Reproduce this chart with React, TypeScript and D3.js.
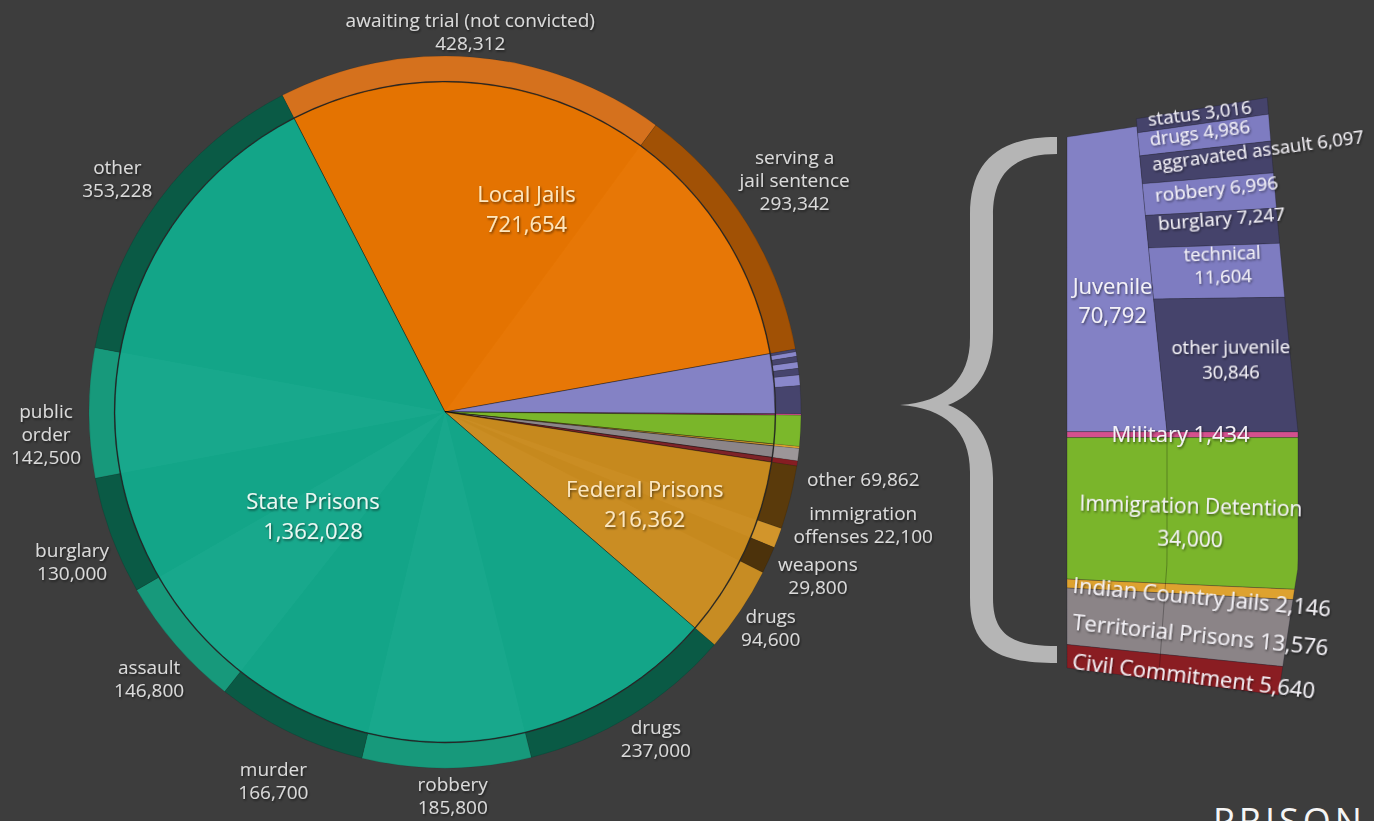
import React from 'react';
import * as d3 from 'd3';

// ---------------- DATA ----------------
const mainCategories = [
  'Local Jails', 'Juvenile', 'Military', 'Immigration Detention', 'Indian Country Jails',
  'Territorial Prisons', 'Civil Commitment', 'Federal Prisons', 'State Prisons',
];
const mainValues = [721654, 70792, 1434, 34000, 2146, 13576, 5640, 216362, 1362028];

const localJailCategories = ['awaiting trial (not convicted)', 'serving a jail sentence'];
const localJailValues = [428312, 293342];

const juvenileCategories = ['status', 'drugs', 'aggravated assault', 'robbery', 'burglary', 'technical', 'other juvenile'];
const juvenileValues = [3016, 4986, 6097, 6996, 7247, 11604, 30846];

const federalCategories = ['other', 'immigration offenses', 'weapons', 'drugs'];
const federalValues = [69862, 22100, 29800, 94600];

const stateCategories = ['drugs', 'robbery', 'murder', 'assault', 'burglary', 'public order', 'other'];
const stateValues = [237000, 185800, 166700, 146800, 130000, 142500, 353228];

// the small slices that are exploded into the stacked column on the right
const barCategories = ['Juvenile', 'Military', 'Immigration Detention', 'Indian Country Jails', 'Territorial Prisons', 'Civil Commitment'];

const breakdowns: Record<string, { cats: string[]; vals: number[] }> = {
  'Local Jails': { cats: localJailCategories, vals: localJailValues },
  'Juvenile': { cats: juvenileCategories, vals: juvenileValues },
  'Federal Prisons': { cats: federalCategories, vals: federalValues },
  'State Prisons': { cats: stateCategories, vals: stateValues },
};

// ---------------- STYLE / LAYOUT ----------------
const W = 1374, H = 821;
const CX = 445, CY = 412, R_PIE = 330, R_RING_IN = 331, R_RING_OUT = 356;
const START = (-27.2 * Math.PI) / 180;
const BAR = { xl: 1067, xd: 1167, xr: 1298, top: 137, bottom: 668, rightTop: 130 };
const FONT = "'Open Sans', 'DejaVu Sans', sans-serif";
const BG = '#3d3d3d';

const mainColors: Record<string, string> = {
  'Local Jails': '#e77502',
  'Juvenile': '#8482c5',
  'Military': '#d4508e',
  'Immigration Detention': '#7ab62a',
  'Indian Country Jails': '#e0a431',
  'Territorial Prisons': '#8c8588',
  'Civil Commitment': '#7e2328',
  'Federal Prisons': '#c98b1f',
  'State Prisons': '#14a78a',
};
const ringPalette: Record<string, string[]> = {
  'Local Jails': ['#d5711d', '#a15105'],
  'Juvenile': ['#46446d', '#8987cb'],
  'Military': ['#d4508e'],
  'Immigration Detention': ['#7bb82b'],
  'Indian Country Jails': ['#e1a531'],
  'Territorial Prisons': ['#9c9699'],
  'Civil Commitment': ['#861d23'],
  'Federal Prisons': ['#5a3a0b', '#d2952b', '#4c320b', '#c78c23'],
  'State Prisons': ['#0a5a45', '#17997b'],
};
const barColors: Record<string, string> = {
  'Juvenile': '#8381c5',
  'Military': '#d4508e',
  'Immigration Detention': '#7ab52b',
  'Indian Country Jails': '#dea22f',
  'Territorial Prisons': '#8b8487',
  'Civil Commitment': '#8a1d22',
};
const juvenileBarPalette = ['#45436b', '#7e7cc1'];

type PieLabel = { r: number; dx: number; dy: number; lines: string[] };
const pieLabelLayout: Record<string, PieLabel> = {
  'Local Jails|awaiting trial (not convicted)': { r: 381, dx: -5, dy: 0, lines: ['awaiting trial (not convicted)', '{v}'] },
  'Local Jails|serving a jail sentence': { r: 412, dx: 0, dy: -14, lines: ['serving a', 'jail sentence', '{v}'] },
  'Federal Prisons|other': { r: 398, dx: 32, dy: -28, lines: ['other {v}'] },
  'Federal Prisons|immigration offenses': { r: 398, dx: 46, dy: -28, lines: ['immigration', 'offenses {v}'] },
  'Federal Prisons|weapons': { r: 398, dx: 11, dy: -2, lines: ['weapons', '{v}'] },
  'Federal Prisons|drugs': { r: 398, dx: -5, dy: -6, lines: ['drugs', '{v}'] },
  'State Prisons|drugs': { r: 389, dx: 7, dy: -4, lines: ['drugs', '{v}'] },
  'State Prisons|robbery': { r: 387, dx: 6, dy: -3, lines: ['robbery', '{v}'] },
  'State Prisons|murder': { r: 407, dx: 6, dy: 3, lines: ['murder', '{v}'] },
  'State Prisons|assault': { r: 398, dx: 5, dy: 6, lines: ['assault', '{v}'] },
  'State Prisons|burglary': { r: 402, dx: 4, dy: 10, lines: ['burglary', '{v}'] },
  'State Prisons|public order': { r: 399, dx: 0, dy: 21, lines: ['public', 'order', '{v}'] },
  'State Prisons|other': { r: 402, dx: -5, dy: 7, lines: ['other', '{v}'] },
};
const mainLabelLayout: Record<string, PieLabel & { fill: string }> = {
  'Local Jails': { r: 218, dx: -15, dy: -7, lines: ['Local Jails', '{v}'], fill: '#fde6bd' },
  'Federal Prisons': { r: 220, dx: 0, dy: 0, lines: ['Federal Prisons', '{v}'], fill: '#fbe7c2' },
  'State Prisons': { r: 168, dx: 0, dy: 0, lines: ['State Prisons', '{v}'], fill: '#ecf7f2' },
};

type BarLabel = { col: 'left' | 'right' | 'full'; anchor: 'start' | 'middle'; dx: number; dy: number; rot: number; size: number; lh: number; lines: string[] };
const barLabelLayout: Record<string, BarLabel> = {
  'Juvenile': { col: 'left', anchor: 'middle', dx: 3, dy: 17, rot: 0, size: 22, lh: 29, lines: ['Juvenile', '{v}'] },
  'status': { col: 'right', anchor: 'start', dx: 0, dy: -4, rot: -7, size: 18.5, lh: 22, lines: ['status {v}'] },
  'drugs': { col: 'right', anchor: 'start', dx: 0, dy: -3, rot: -7.5, size: 18.5, lh: 22, lines: ['drugs {v}'] },
  'aggravated assault': { col: 'right', anchor: 'start', dx: 0, dy: -4, rot: -7.5, size: 18.5, lh: 22, lines: ['aggravated assault {v}'] },
  'robbery': { col: 'right', anchor: 'start', dx: 0, dy: -4, rot: -6, size: 19, lh: 22, lines: ['robbery {v}'] },
  'burglary': { col: 'right', anchor: 'start', dx: 0, dy: -8, rot: -4.5, size: 19, lh: 22, lines: ['burglary {v}'] },
  'technical': { col: 'right', anchor: 'middle', dx: 6, dy: -7, rot: -2, size: 18.5, lh: 23, lines: ['technical', '{v}'] },
  'other juvenile': { col: 'right', anchor: 'middle', dx: 5, dy: -6, rot: -0.5, size: 18.5, lh: 25, lines: ['other juvenile', '{v}'] },
  'Military': { col: 'full', anchor: 'middle', dx: -2, dy: 0, rot: 0, size: 22, lh: 26, lines: ['Military {v}'] },
  'Immigration Detention': { col: 'full', anchor: 'middle', dx: 8, dy: 13, rot: 1.5, size: 21, lh: 33, lines: ['Immigration Detention', '{v}'] },
  'Indian Country Jails': { col: 'full', anchor: 'start', dx: 0, dy: 1, rot: 5.3, size: 22, lh: 26, lines: ['Indian Country Jails {v}'] },
  'Territorial Prisons': { col: 'full', anchor: 'start', dx: 0, dy: 5, rot: 5.8, size: 22, lh: 26, lines: ['Territorial Prisons {v}'] },
  'Civil Commitment': { col: 'full', anchor: 'start', dx: 0, dy: 4, rot: 7, size: 22, lh: 26, lines: ['Civil Commitment {v}'] },
};

const fmt = d3.format(',');

function Label(props: {
  x: number; y: number; lines: string[]; size: number; lh: number; fill: string;
  anchor?: string; rot?: number; weight?: number;
}) {
  const { x, y, lines, size, lh, fill, anchor = 'middle', rot = 0, weight = 400 } = props;
  const n = lines.length;
  return (
    <text
      transform={`translate(${x.toFixed(1)},${y.toFixed(1)}) rotate(${rot})`}
      fontSize={size}
      fill={fill}
      textAnchor={anchor}
      fontFamily={FONT}
      fontWeight={weight}
      filter="url(#ts)"
    >
      {lines.map((l, i) => (
        <tspan key={i} x={0} y={(i - (n - 1) / 2) * lh} dy="0.35em">{l}</tspan>
      ))}
    </text>
  );
}

export default function App() {
  // ---------- pie ----------
  const pie = d3.pie<number>().sort(null).value((d) => d).startAngle(START).endAngle(START + 2 * Math.PI);
  const mainArcs = pie(mainValues);
  const arcMain = d3.arc<any>().innerRadius(0).outerRadius(R_PIE);
  const arcRing = d3.arc<any>().innerRadius(R_RING_IN).outerRadius(R_RING_OUT);

  type Seg = { group: string; name: string; value: number; startAngle: number; endAngle: number; j: number };
  const segments: Seg[] = [];
  mainArcs.forEach((a, i) => {
    const name = mainCategories[i];
    const br = breakdowns[name] ?? { cats: [name], vals: [mainValues[i]] };
    const ang = d3.scaleLinear().domain([0, d3.sum(br.vals)]).range([a.startAngle, a.endAngle]);
    let acc = 0;
    br.vals.forEach((v, j) => {
      segments.push({ group: name, name: br.cats[j], value: v, startAngle: ang(acc), endAngle: ang(acc + v), j });
      acc += v;
    });
  });

  const ringColor = (s: Seg) => {
    const p = ringPalette[s.group];
    return p[s.j % p.length];
  };

  // ---------- stacked column (perspective) ----------
  const barVals = barCategories.map((c) => mainValues[mainCategories.indexOf(c)]);
  const barTotal = d3.sum(barVals);
  const yLeft = d3.scaleLinear().domain([0, barTotal]).range([BAR.top, BAR.bottom]);
  const juvTotal = d3.sum(juvenileValues);
  const yJ = yLeft(barVals[0]);
  const yRight = d3.scaleLinear().domain([0, juvTotal]).range([BAR.rightTop, yJ]);

  const slope = (y: number) =>
    y < yJ ? -5.9e-9 * Math.pow(yJ - y, 3) : y > 450 ? 2.7e-6 * (y - 450) * (y - 450) : 0;
  const warp = (x: number, y: number): [number, number] => {
    const top = y < yJ ? (30 * (yJ - y)) / (yJ - BAR.top) : 0;
    const bot = y > 560 ? (y - 560) * 0.18 : 0;
    const fx = Math.max(0, Math.min(1, (x - BAR.xl) / (BAR.xd - BAR.xl)));
    const X = x - top * fx - (bot * (x - BAR.xl)) / (BAR.xr - BAR.xl);
    const Y = y + slope(y) * (X - BAR.xl);
    return [X, Y];
  };
  const line = d3.line();
  const bandPath = (x0: number, x1: number, y0: number, y1: number) => {
    const n = 16;
    const pts: [number, number][] = [];
    for (let i = 0; i <= n; i++) pts.push(warp(x0 + ((x1 - x0) * i) / n, y0));
    for (let i = 1; i <= n; i++) pts.push(warp(x1, y0 + ((y1 - y0) * i) / n));
    for (let i = 1; i <= n; i++) pts.push(warp(x1 - ((x1 - x0) * i) / n, y1));
    for (let i = 1; i < n; i++) pts.push(warp(x0, y1 - ((y1 - y0) * i) / n));
    return line(pts) + 'Z';
  };
  const vLinePath = (x: number, y0: number, y1: number) => {
    const pts: [number, number][] = [];
    for (let i = 0; i <= 20; i++) pts.push(warp(x, y0 + ((y1 - y0) * i) / 20));
    return line(pts) as string;
  };

  type Band = { name: string; value: number; x0: number; x1: number; y0: number; y1: number; color: string };
  const bands: Band[] = [];
  let accL = 0;
  barCategories.forEach((c, i) => {
    const v = barVals[i];
    bands.push({
      name: c, value: v,
      x0: BAR.xl, x1: i === 0 ? BAR.xd : BAR.xr,
      y0: yLeft(accL), y1: yLeft(accL + v),
      color: barColors[c],
    });
    accL += v;
  });
  let accR = 0;
  juvenileCategories.forEach((c, j) => {
    const v = juvenileValues[j];
    bands.push({
      name: c, value: v, x0: BAR.xd, x1: BAR.xr,
      y0: yRight(accR), y1: yRight(accR + v),
      color: juvenileBarPalette[j % 2 === 0 ? 0 : 1],
    });
    accR += v;
  });

  const barLabelPos = (b: Band, L: BarLabel): [number, number] => {
    const yc = (b.y0 + b.y1) / 2;
    let xf: number;
    if (L.col === 'left') xf = (BAR.xl + BAR.xd) / 2;
    else if (L.col === 'right') xf = L.anchor === 'start' ? BAR.xd + 11 : (BAR.xd + BAR.xr) / 2;
    else xf = L.anchor === 'start' ? BAR.xl + 6 : (BAR.xl + BAR.xr) / 2;
    const [X, Y] = warp(xf, yc);
    return [X + L.dx, Y + L.dy];
  };

  // brace
  const bracePath =
    'M1057,137 C1000,137 970,160 970,215 L970,338 C970,380 945,402 900,405 ' +
    'C945,408 970,430 970,472 L970,598 C970,650 1000,663 1057,663 L1057,646 ' +
    'C1012,646 993,635 993,598 L993,478 C993,440 975,415 948,405 ' +
    'C975,395 993,370 993,332 L993,215 C993,175 1012,154 1057,154 Z';

  return (
    <svg
      width={W}
      height={H}
      viewBox={`0 0 ${W} ${H}`}
      style={{ position: 'absolute', left: 0, top: 0, display: 'block' }}
    >
      <defs>
        <filter id="ts" x="-20%" y="-60%" width="140%" height="220%">
          <feDropShadow dx="1" dy="1.5" stdDeviation="1.2" floodColor="#000" floodOpacity="0.55" />
        </filter>
      </defs>
      <rect x={0} y={0} width={W} height={H} fill={BG} />

      {/* ---------- PIE ---------- */}
      <g transform={`translate(${CX},${CY})`}>
        {mainArcs.map((a, i) => (
          <path key={'m' + i} d={arcMain(a) as string} fill={mainColors[mainCategories[i]]}
            stroke="rgba(0,0,0,0.35)" strokeWidth={1} />
        ))}
        {segments.filter((s) => breakdowns[s.group] && s.group !== 'Juvenile').map((s, i) => (
          <path key={'sh' + i} d={arcMain(s) as string}
            fill={s.j % 2 === 0 ? '#000' : '#fff'} opacity={s.j % 2 === 0 ? 0.012 : 0.018} />
        ))}
        {segments.map((s, i) => (
          <path key={'r' + i} d={arcRing(s) as string} fill={ringColor(s)}
            stroke="rgba(0,0,0,0.18)" strokeWidth={0.6} />
        ))}
        <circle r={R_PIE + 0.5} fill="none" stroke="rgba(0,0,0,0.25)" strokeWidth={1} />
      </g>

      {/* pie main labels */}
      {mainArcs.map((a, i) => {
        const name = mainCategories[i];
        const L = mainLabelLayout[name];
        if (!L) return null;
        const [x, y] = d3.arc<any>().innerRadius(L.r).outerRadius(L.r).centroid(a);
        return (
          <Label key={'ml' + i} x={CX + x + L.dx} y={CY + y + L.dy} size={22} lh={30} fill={L.fill}
            lines={L.lines.map((t) => t.replace('{v}', fmt(mainValues[i])))} />
        );
      })}

      {/* pie outer labels */}
      {segments.map((s, i) => {
        const L = pieLabelLayout[s.group + '|' + s.name];
        if (!L) return null;
        const [x, y] = d3.arc<any>().innerRadius(L.r).outerRadius(L.r).centroid(s);
        return (
          <Label key={'ol' + i} x={CX + x + L.dx} y={CY + y + L.dy} size={19} lh={23} fill="#dadada"
            lines={L.lines.map((t) => t.replace('{v}', fmt(s.value)))} />
        );
      })}

      {/* ---------- BRACE ---------- */}
      <path d={bracePath} fill="#b5b5b5" />

      {/* ---------- STACKED COLUMN ---------- */}
      {bands.map((b, i) => (
        <path key={'b' + i} d={bandPath(b.x0, b.x1, b.y0, b.y1)} fill={b.color}
          stroke="rgba(25,25,40,0.35)" strokeWidth={0.8} />
      ))}
      <path d={vLinePath(BAR.xd, yJ, BAR.bottom)} fill="none" stroke="rgba(0,0,0,0.28)" strokeWidth={1} />
      {bands.map((b, i) => {
        const L = barLabelLayout[b.name];
        if (!L) return null;
        if (b.name === 'drugs' && b.x0 !== BAR.xd) return null;
        const [x, y] = barLabelPos(b, L);
        return (
          <Label key={'bl' + i} x={x} y={y} size={L.size} lh={L.lh} fill="#f4f2f7" anchor={L.anchor} rot={L.rot}
            lines={L.lines.map((t) => t.replace('{v}', fmt(b.value)))} />
        );
      })}

      {/* logo text, cut off at the bottom edge */}
      <text x={1213} y={834} fontSize={36} letterSpacing={4} fill="#f5f5f5" fontFamily={FONT}>PRISON</text>
    </svg>
  );
}
